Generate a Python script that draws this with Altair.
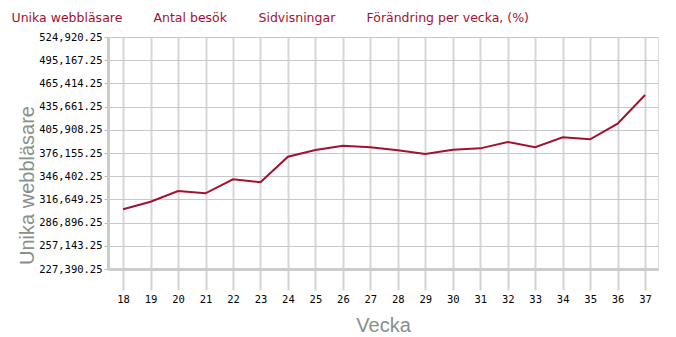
import altair as alt
import pandas as pd

weeks = list(range(18, 38))
visitors = [303950, 313700, 327420, 324470, 342420, 338580, 371400, 380000,
            385520, 383450, 379610, 374870, 380390, 382110, 390260, 383450,
            396290, 393720, 413730, 450540]
series_names = ["Unika webbläsare", "Antal besök", "Sidvisningar", "Förändring per vecka, (%)"]
y_ticks = [227390.25 + 29753 * i for i in range(11)]

df = pd.DataFrame({"Vecka": weeks, "value": visitors, "serie": series_names[0]})

red = "#a3112e"
mono = "DejaVu Sans Mono"

chart = alt.Chart(df).mark_line(color=red, strokeWidth=2).encode(
    x=alt.X("Vecka:Q",
            scale=alt.Scale(domain=[17.45, 37.47], nice=False, zero=False),
            axis=alt.Axis(values=weeks, format="d", title="Vecka",
                          labelFont=mono, labelFontSize=10.5, labelColor="#000",
                          labelPadding=4, tickSize=21, tickWidth=2, tickColor="#d2d2d2",
                          domainColor="#cccccc", domainWidth=3,
                          gridColor="#d6d6d6", gridWidth=2,
                          titleFont="Liberation Sans", titleFontSize=20,
                          titleFontWeight="normal", titleColor="#879089",
                          titlePadding=11)),
    y=alt.Y("value:Q",
            scale=alt.Scale(domain=[y_ticks[0], y_ticks[-1]], nice=False, zero=False),
            axis=alt.Axis(values=y_ticks, format=",.2f", title="Unika webbläsare",
                          labelFont=mono, labelFontSize=10.5, labelColor="#000",
                          labelPadding=2, tickSize=4, tickColor="#bbbbbb",
                          domainColor="#cccccc", domainWidth=3,
                          gridColor="#c8c8c8", gridWidth=1,
                          titleFont="Liberation Sans", titleFontSize=20,
                          titleFontWeight="normal", titleColor="#879089",
                          titleX=-81, titleY=148, titleAlign="center",
                          titleBaseline="middle", titleAngle=270)),
    color=alt.Color("serie:N",
                    scale=alt.Scale(domain=series_names, range=[red] * 4),
                    legend=alt.Legend(title=None, orient="none", direction="horizontal",
                                      columns=4, columnPadding=18,
                                      legendX=-109, legendY=-25, labelLimit=0,
                                      symbolSize=0, symbolOpacity=0, symbolStrokeWidth=0,
                                      labelOffset=0, labelFont="DejaVu Sans",
                                      labelFontSize=12.5, labelColor=red)),
).properties(
    width=550, height=232,
    autosize=alt.AutoSizeParams(type="none"),
    padding={"left": 108, "top": 37, "right": 18, "bottom": 68},
).configure_view(stroke=None).configure(background="white")

chart.save("out.html", embed_options={"renderer": "svg", "actions": False})
